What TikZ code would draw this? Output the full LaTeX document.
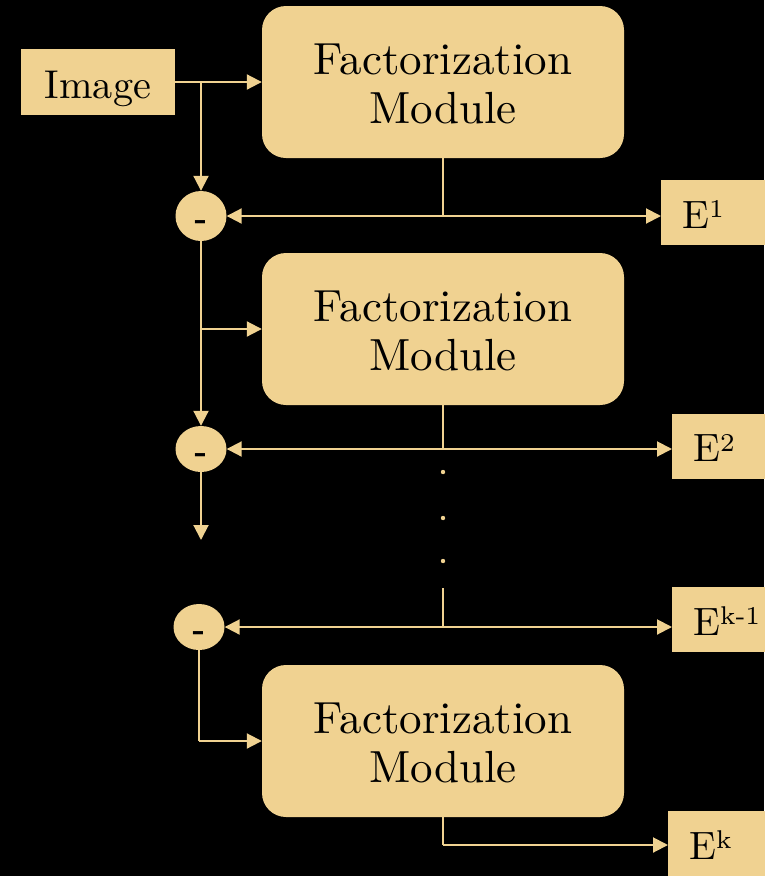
\documentclass[tikz,border=0pt]{standalone}
\usepackage{graphicx}
\usepackage{tikz}
\usetikzlibrary{arrows.meta,shapes.geometric}
\definecolor{sand}{RGB}{240,210,145}

% small raised index after a letter, in text style
\newcommand{\supidx}[1]{\raisebox{2.6pt}{\fontsize{6.5}{7}\selectfont #1}}
% two-line block label set in 10pt design size and enlarged
\newcommand{\blocklabel}{\scalebox{4.5}{\fontsize{10}{11}\selectfont
  \begin{tabular}[t]{@{}c@{}}Factorization\\Module\end{tabular}}}

\begin{document}
\begin{tikzpicture}[x=1pt,y=-1pt,
  fmbox/.style={fill=sand, rounded corners=24pt, minimum width=362pt, minimum height=152pt,
    inner sep=0pt, text=black, text height=0pt, text depth=16pt},
  imgbox/.style={fill=sand, minimum width=154pt, minimum height=66pt, inner sep=0pt,
    text=black, text height=32pt, text depth=0pt},
  ebox/.style={fill=sand, anchor=west, minimum height=65pt, inner xsep=21pt, inner ysep=0pt,
    text width=80pt, align=left, text=black, text height=31pt, text depth=0pt},
  minus/.style={ellipse, fill=sand, inner sep=0pt, minimum width=51pt},
  minustxt/.style={text=black, inner sep=0pt},
  wire/.style={draw=sand, line width=2pt},
  conn/.style={wire, -{Triangle[length=15pt,width=15pt]}}
]
\fill[black] (0,0) rectangle (764,876);
\useasboundingbox (0,0) rectangle (764,876);

% main blocks
\node[imgbox] (img) at (98,82) {\scalebox{4.02}{\fontsize{10}{12}\selectfont Image}};
\node[fmbox] (fm1) at (443,82) {\blocklabel};
\node[fmbox] (fm2) at (443,329) {\blocklabel};
\node[fmbox] (fm3) at (443,741) {\blocklabel};

% subtraction nodes
\node[minus, minimum height=50pt] (m1) at (201,216) {};
\node[minus, minimum height=46pt] (m2) at (201,449) {};
\node[minus, minimum height=46pt] (m3) at (199,627) {};
\node[minustxt, yshift=-9pt] (m1t) at (m1) {\scalebox{3.3}{\fontsize{10}{12}\bfseries -}};
\node[minustxt, yshift=-9pt] (m2t) at (m2) {\scalebox{3.3}{\fontsize{10}{12}\bfseries -}};
\node[minustxt, yshift=-9pt] (m3t) at (m3) {\scalebox{3.3}{\fontsize{10}{12}\bfseries -}};

% outputs
\node[ebox] (e1) at (661,212.5) {\scalebox{3.95}{\fontsize{10}{12}\selectfont E\supidx{1}}};
\node[ebox] (e2) at (672,446) {\scalebox{3.95}{\fontsize{10}{12}\selectfont E\supidx{2}}};
\node[ebox] (ek1) at (672,619.5) {\scalebox{3.95}{\fontsize{10}{12}\selectfont E\supidx{k-1}}};
\node[ebox] (ek) at (668,843.5) {\scalebox{3.95}{\fontsize{10}{12}\selectfont E\supidx{k}}};

% junction points
\coordinate (s1) at (201,82);
\coordinate (j1) at (443,216);
\coordinate (s2) at (201,329);
\coordinate (j2) at (443,449);
\coordinate (s3) at (201,540);
\coordinate (t3) at (443,588);
\coordinate (j3) at (443,627);
\coordinate (s4) at (199,741);
\coordinate (j4) at (443,845);

% stage 1
\draw[conn] (img.east) -- (fm1.west);
\draw[conn] (s1) -- (m1.north);
\draw[wire] (fm1.south) -- (j1);
\draw[conn] (j1) -- (m1.east);
\draw[conn] (j1) -- (j1 -| e1.west);

% stage 2
\draw[wire] (m1.south) -- (s2);
\draw[conn] (s2) -- (fm2.west);
\draw[conn] (s2) -- (m2.north);
\draw[wire] (fm2.south) -- (j2);
\draw[conn] (j2) -- (m2.east);
\draw[conn] (j2) -- (j2 -| e2.west);
\draw[conn] (m2.south) -- (s3);

% continuation dots
\fill[sand] (443,472) circle (2.2);
\fill[sand] (443,518) circle (2.2);
\fill[sand] (443,561) circle (2.2);

% stage k
\draw[wire] (t3) -- (j3);
\draw[conn] (j3) -- (m3.east);
\draw[conn] (j3) -- (j3 -| ek1.west);
\draw[wire] (m3.south) -- (s4);
\draw[conn] (s4) -- (fm3.west);
\draw[wire] (fm3.south) -- (j4);
\draw[conn] (j4) -- (j4 -| ek.west);
\end{tikzpicture}
\end{document}
